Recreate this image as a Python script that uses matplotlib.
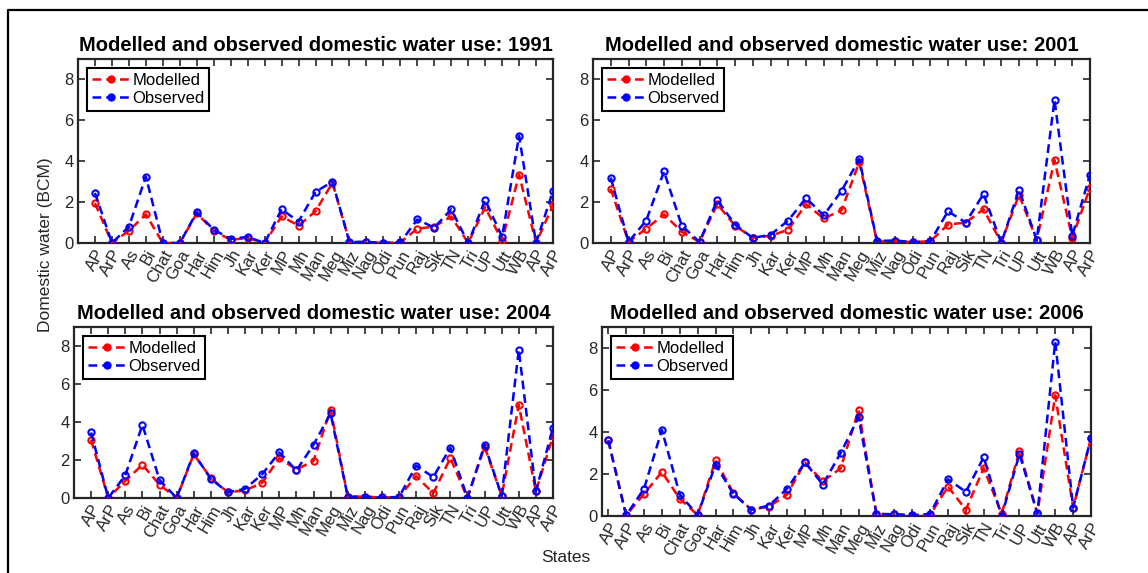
import matplotlib
matplotlib.use('Agg')
import matplotlib.pyplot as plt
from matplotlib.lines import Line2D
import numpy as np

plt.rcParams['font.family'] = ['Liberation Sans', 'DejaVu Sans']

# states on the x axis (AP and ArP are repeated at the end as in the original)
states = ['AP', 'ArP', 'As', 'Bi', 'Chat', 'Goa', 'Har', 'Him', 'Jh', 'Kar', 'Ker', 'MP', 'Mh', 'Man',
          'Meg', 'Miz', 'Nag', 'Odi', 'Pun', 'Raj', 'Sik', 'TN', 'Tri', 'UP', 'Utt', 'WB', 'AP', 'ArP']

years = [1991, 2001, 2004, 2006]

# domestic water use (BCM)
mod_1991 = [1.95, 0.0, 0.6, 1.4, 0.0, 0.0, 1.45, 0.6, 0.15, 0.25, 0.0, 1.3, 0.85, 1.55,
            2.95, 0.05, 0.05, 0.0, 0.03, 0.7, 0.8, 1.3, 0.0, 1.75, 0.1, 3.35, 0.0, 1.85]
obs_1991 = [2.45, 0.0, 0.8, 3.25, 0.0, 0.0, 1.5, 0.65, 0.2, 0.3, 0.0, 1.65, 1.05, 2.5,
            3.0, 0.05, 0.05, 0.0, 0.03, 1.15, 0.75, 1.65, 0.0, 2.1, 0.3, 5.25, 0.0, 2.55]

mod_2001 = [2.65, 0.05, 0.7, 1.4, 0.55, 0.05, 1.9, 0.85, 0.25, 0.35, 0.65, 1.9, 1.2, 1.6,
            3.95, 0.07, 0.08, 0.05, 0.08, 0.9, 1.0, 1.65, 0.02, 2.35, 0.15, 4.05, 0.25, 2.7]
obs_2001 = [3.2, 0.05, 1.1, 3.5, 0.85, 0.05, 2.1, 0.9, 0.25, 0.4, 1.1, 2.2, 1.35, 2.55,
            4.1, 0.1, 0.12, 0.05, 0.08, 1.55, 1.0, 2.4, 0.0, 2.6, 0.15, 7.0, 0.35, 3.35]

mod_2004 = [3.05, 0.0, 0.9, 1.75, 0.7, 0.0, 2.3, 1.05, 0.3, 0.4, 0.8, 2.1, 1.5, 1.95,
            4.65, 0.07, 0.07, 0.03, 0.05, 1.15, 0.25, 2.1, 0.0, 2.7, 0.12, 4.9, 0.35, 3.25]
obs_2004 = [3.45, 0.0, 1.2, 3.85, 0.95, 0.0, 2.35, 1.0, 0.3, 0.48, 1.25, 2.4, 1.45, 2.8,
            4.45, 0.07, 0.07, 0.03, 0.05, 1.7, 1.1, 2.65, 0.0, 2.8, 0.12, 7.8, 0.35, 3.7]

mod_2006 = [3.6, 0.03, 1.05, 2.1, 0.82, 0.05, 2.65, 1.1, 0.3, 0.45, 1.02, 2.55, 1.65, 2.27,
            5.05, 0.1, 0.08, 0.04, 0.05, 1.4, 0.3, 2.28, 0.1, 3.1, 0.12, 5.75, 0.4, 3.7]
obs_2006 = [3.6, 0.03, 1.3, 4.1, 1.02, 0.05, 2.45, 1.05, 0.3, 0.5, 1.3, 2.55, 1.5, 3.0,
            4.7, 0.1, 0.08, 0.04, 0.1, 1.75, 1.15, 2.8, 0.0, 2.95, 0.12, 8.3, 0.4, 3.72]

modelled = [mod_1991, mod_2001, mod_2004, mod_2006]
observed = [obs_1991, obs_2001, obs_2004, obs_2006]

W, H = 1148, 573
fig = plt.figure(figsize=(W / 100, H / 100), dpi=100)

# axes boxes in pixels: x0, x1, y0 (top), y1 (bottom)
boxes = [(78, 553, 59, 243), (593, 1090, 59, 243), (74, 553, 327, 498), (602, 1091, 327, 516)]
xlefts = [0, 0, 0, 0.65]

grey = '#262626'
x = np.arange(1, len(states) + 1)
dash = (0, (3.5, 2.0))

for i in range(4):
    x0, x1, y0, y1 = boxes[i]
    ax = fig.add_axes([x0 / W, 1 - y1 / H, (x1 - x0) / W, (y1 - y0) / H])
    ax.plot(x, modelled[i], color='red', linestyle=dash, lw=1.8, marker='o', ms=4.5,
            mfc='none', mew=1.5, zorder=3)
    ax.plot(x, observed[i], color='blue', linestyle=dash, lw=1.8, marker='o', ms=4.5,
            mfc='none', mew=1.5, zorder=4)
    ax.set_xlim(xlefts[i], 28)
    ax.set_ylim(0, 9)
    ax.set_yticks([0, 2, 4, 6, 8])
    ax.set_xticks(x)
    ax.set_xticklabels(states, rotation=60, ha='right', va='top', rotation_mode='anchor')
    ax.tick_params(direction='in', length=5, width=1.2, top=True, right=True,
                   labelsize=12, colors=grey, pad=3)
    for s in ax.spines.values():
        s.set_linewidth(1.6)
        s.set_color(grey)
    ax.set_title('Modelled and observed domestic water use: %d' % years[i],
                 fontsize=14.5, fontweight='bold', pad=6)
    handles = [Line2D([], [], color='red', linestyle=dash, lw=1.8, marker='o', ms=5),
               Line2D([], [], color='blue', linestyle=dash, lw=1.8, marker='o', ms=5)]
    leg = ax.legend(handles, ['Modelled', 'Observed'], loc='upper left', fontsize=12,
                    fancybox=False, edgecolor='black', framealpha=1, borderaxespad=0.55,
                    handlelength=2.2, handletextpad=0.2, borderpad=0.3, labelspacing=0.15)
    leg.get_frame().set_linewidth(1.5)

fig.text(46 / W, 1 - 245 / H, 'Domestic water (BCM)', rotation=90, ha='center', va='center',
         fontsize=12.5, color=grey)
fig.text(566 / W, 1 - 557 / H, 'States', ha='center', va='center', fontsize=12.5, color=grey)

# outer border (left and top edges visible)
fig.add_artist(Line2D([8 / W, 8 / W, 1.0], [0.0, 1 - 10 / H, 1 - 10 / H], color='black',
                      lw=1.6, transform=fig.transFigure))

fig.savefig('out.png', dpi=100)
